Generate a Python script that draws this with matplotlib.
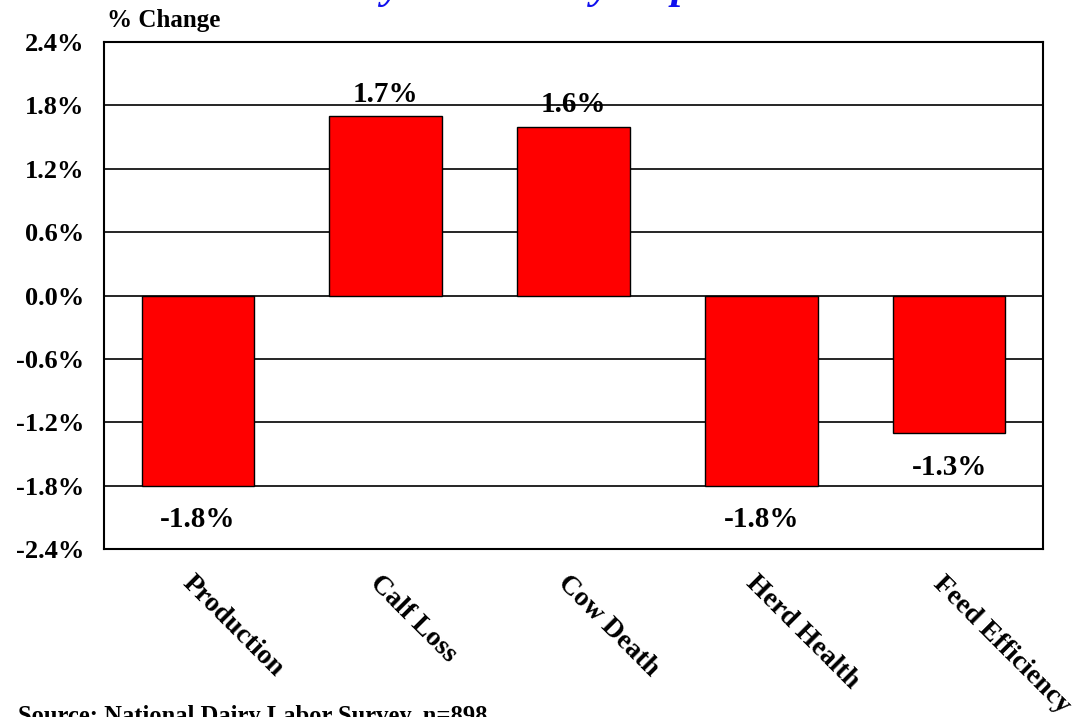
"""
Percent change in dairy performance measures, bar chart with
labels above/below each bar and diagonal category names.
"""

import matplotlib
matplotlib.use("Agg")
import matplotlib.pyplot as plt
import matplotlib.transforms as mtransforms

# ─── data ────────────────────────────────────
categories = ["Production", "Calf Loss", "Cow Death", "Herd Health", "Feed Efficiency"]
pct_change = [-1.8, 1.7, 1.6, -1.8, -1.3]
y_ticks = [-2.4, -1.8, -1.2, -0.6, 0.0, 0.6, 1.2, 1.8, 2.4]

title_text = "Dairy Husbandry Impact"
source_text = "Source: National Dairy Labor Survey, n=898"

SERIF = "Liberation Serif"

fig = plt.figure(figsize=(10.79, 7.17), dpi=100)
ax = fig.add_axes([0.0964, 0.2343, 0.8702, 0.7071])

x = list(range(len(categories)))

# gridlines behind the bars
for t in y_ticks:
    ax.axhline(t, color="black", lw=1.2, zorder=1)

ax.bar(x, pct_change, width=0.6, color="#ff0000", edgecolor="black",
       linewidth=1.0, zorder=3)

ax.set_xlim(-0.5, len(categories) - 0.5)
ax.set_ylim(y_ticks[0], y_ticks[-1])
ax.set_yticks(y_ticks)
ax.set_yticklabels([f"{t:.1f}%" for t in y_ticks],
                   fontfamily=SERIF, fontweight="bold", fontsize=19)
ax.tick_params(axis="y", length=0, pad=14)
ax.set_xticks([])
for sp in ax.spines.values():
    sp.set_linewidth(1.5)
    sp.set_color("black")

# value labels
for xi, v in zip(x, pct_change):
    off = 6 if v > 0 else -15
    ax.annotate(f"{v:.1f}%", (xi, v), xytext=(0, off), textcoords="offset points",
                ha="center", va="bottom" if v > 0 else "top",
                fontfamily=SERIF, fontweight="bold", fontsize=21)

# diagonal category names below the axis
shift = mtransforms.ScaledTranslation(-3 / 100, -22 / 100, fig.dpi_scale_trans)
trans = mtransforms.blended_transform_factory(ax.transData, ax.transAxes) + shift
for xi, name in zip(x, categories):
    ax.text(xi, 0, name, transform=trans, rotation=-45, rotation_mode="anchor",
            ha="left", va="top", fontfamily=SERIF, fontweight="bold", fontsize=20)

# axis caption, title (mostly off the top edge) and source line
fig.text(107 / 1079, 1 - 20 / 717, "% Change", ha="left", va="center",
         fontfamily=SERIF, fontweight="bold", fontsize=18)
fig.text(0.485, 1 + 2 / 717, title_text, ha="center", va="baseline",
         fontfamily=SERIF, fontweight="bold", fontstyle="italic",
         fontsize=31, color="#1010ee")
fig.text(18 / 1079, 1 - 705 / 717, source_text, ha="left", va="top",
         fontfamily=SERIF, fontweight="bold", fontsize=17.7)

fig.savefig("out.png", dpi=100)
